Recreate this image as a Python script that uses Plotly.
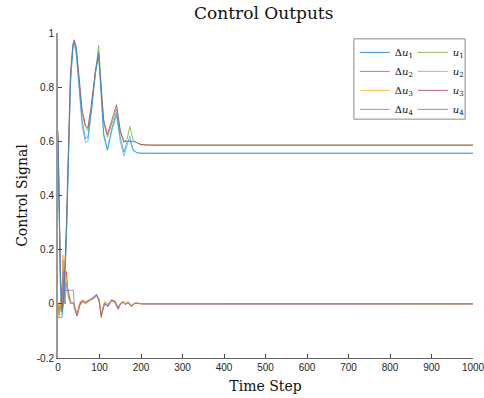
import plotly.graph_objects as go

# ---- data ----
t_u = [0, 3, 6, 10, 14, 20, 25, 30, 36, 39, 44, 50, 58, 66, 72, 80, 90, 98, 104, 110,
       119, 130, 141, 150, 159, 167, 173, 181, 190, 200, 220, 1000]
u1 = [0.62, 0.35, 0.08, -0.03, 0.02, 0.25, 0.55, 0.82, 0.95, 0.965, 0.93, 0.83, 0.70, 0.655, 0.64, 0.72,
      0.86, 0.955, 0.80, 0.67, 0.615, 0.665, 0.72, 0.635, 0.595, 0.61, 0.655, 0.605, 0.595, 0.588, 0.586, 0.586]
u2 = [0.60, 0.30, 0.05, -0.04, 0.01, 0.22, 0.52, 0.80, 0.95, 0.96, 0.92, 0.80, 0.66, 0.595, 0.60, 0.70,
      0.85, 0.915, 0.76, 0.62, 0.565, 0.64, 0.695, 0.60, 0.545, 0.585, 0.62, 0.565, 0.558, 0.556, 0.556, 0.556]
u3 = [0.638, 0.36, 0.10, -0.02, 0.03, 0.28, 0.58, 0.85, 0.96, 0.975, 0.95, 0.85, 0.72, 0.66, 0.65, 0.73,
      0.86, 0.92, 0.80, 0.68, 0.625, 0.68, 0.735, 0.64, 0.60, 0.60, 0.60, 0.60, 0.595, 0.588, 0.586, 0.586]
u4 = [0.61, 0.32, 0.06, -0.03, 0.02, 0.24, 0.54, 0.83, 0.955, 0.97, 0.94, 0.82, 0.68, 0.61, 0.615, 0.71,
      0.85, 0.93, 0.78, 0.63, 0.57, 0.65, 0.705, 0.615, 0.56, 0.60, 0.605, 0.57, 0.558, 0.556, 0.556, 0.556]

t_du = [0, 2, 6, 10, 12, 14, 17, 20, 25, 30, 37, 40, 46, 52, 58, 66, 75, 85, 93, 99, 104, 112,
        120, 129, 137, 145, 151, 157, 163, 169, 177, 184, 190, 198, 205, 1000]
du1 = [0.0, -0.04, -0.02, 0.03, 0.10, 0.05, 0.0, 0.08, 0.04, 0.01, 0.0, -0.01, -0.04, -0.005, 0.01, 0.005,
       0.015, 0.02, 0.03, 0.015, -0.04, 0.0, -0.01, 0.012, 0.008, -0.015, 0.0, 0.006, -0.002, 0.005, -0.008,
       0.002, 0.002, 0.001, 0.0, 0.0]
du2 = [0.0, -0.03, 0.01, 0.05, 0.16, 0.08, 0.02, 0.12, 0.03, 0.0, 0.005, -0.02, -0.045, 0.0, 0.012, 0.0,
       0.01, 0.025, 0.035, 0.01, -0.05, 0.005, -0.005, 0.015, 0.005, -0.02, 0.002, 0.008, 0.0, 0.006, -0.01,
       0.0, 0.003, 0.0, 0.0, 0.0]
du3 = [0.0, -0.05, -0.01, 0.04, 0.18, 0.06, 0.01, 0.10, 0.02, 0.005, 0.0, -0.015, -0.035, 0.005, 0.015, 0.01,
       0.012, 0.018, 0.028, 0.02, -0.035, 0.008, 0.0, 0.01, 0.012, -0.01, 0.004, 0.01, 0.002, 0.008, -0.005,
       0.004, 0.001, 0.001, 0.0, 0.0]
du4 = [-0.05, -0.05, -0.05, -0.05, 0.12, 0.05, 0.05, 0.05, 0.05, 0.05, 0.05, -0.01, -0.045, -0.01, 0.008, 0.004,
       0.012, 0.02, 0.035, 0.012, -0.045, 0.0, -0.008, 0.014, 0.01, -0.018, 0.0, 0.005, -0.003, 0.006, -0.009,
       0.001, 0.002, 0.0, 0.0, 0.0]

x_ticks = [0, 100, 200, 300, 400, 500, 600, 700, 800, 900, 1000]
y_ticks = [-0.2, 0, 0.2, 0.4, 0.6, 0.8, 1]
y_tick_labels = ["-0.2", "0", "0.2", "0.4", "0.6", "0.8", "1"]

du_names = ["Δ<i>u</i><sub>1</sub>", "Δ<i>u</i><sub>2</sub>", "Δ<i>u</i><sub>3</sub>", "Δ<i>u</i><sub>4</sub>"]
u_names = ["<i>u</i><sub>1</sub>", "<i>u</i><sub>2</sub>", "<i>u</i><sub>3</sub>", "<i>u</i><sub>4</sub>"]
du_colors = ["#0072BD", "#D95319", "#EDB120", "#A070B0"]
u_colors = ["#77AC30", "#4DBEEE", "#B04050", "#3A8FD0"]

fig = go.Figure()
for name, ys, c in zip(du_names, [du1, du2, du3, du4], du_colors):
    fig.add_trace(go.Scatter(x=t_du, y=ys, mode="lines", name=name,
                             line=dict(color=c, width=0.8), legend="legend"))
for name, ys, c in zip(u_names, [u1, u2, u3, u4], u_colors):
    fig.add_trace(go.Scatter(x=t_u, y=ys, mode="lines", name=name,
                             line=dict(color=c, width=0.8), legend="legend2"))

axis_font = dict(family="Liberation Sans, Arial, sans-serif", size=10, color="#262626")
serif = "DejaVu Serif, serif"

fig.update_layout(
    width=484, height=398,
    margin=dict(l=58, r=11, t=33, b=40, autoexpand=False),
    paper_bgcolor="white", plot_bgcolor="white",
    title=dict(text="Control Outputs", x=0.545, xanchor="center", y=0.966, yanchor="middle",
               font=dict(family=serif, size=17, color="#111")),
    xaxis=dict(range=[0, 1000], tickvals=x_ticks, ticks="inside", ticklen=4, tickcolor="#444",
               showline=True, linecolor="#666", linewidth=1, showgrid=False, zeroline=False,
               tickfont=axis_font, ticklabeloverflow="allow", automargin=False,
               title=dict(text="Time Step", font=dict(family=serif, size=14, color="#111"), standoff=9)),
    yaxis=dict(range=[-0.2, 1], tickvals=y_ticks, ticktext=y_tick_labels, ticks="inside", ticklen=4,
               tickcolor="#444", showline=True, linecolor="#999", linewidth=2, showgrid=False,
               zeroline=False, tickfont=axis_font, automargin=False,
               title=dict(text="Control Signal", font=dict(family=serif, size=14, color="#111"), standoff=6)),
    showlegend=True,
    legend=dict(x=0.715, y=0.985, xanchor="left", yanchor="top", bgcolor="rgba(0,0,0,0)",
                font=dict(family=serif, size=10, color="#111"), borderwidth=0,
                itemwidth=30),
    legend2=dict(x=0.855, y=0.985, xanchor="left", yanchor="top", bgcolor="rgba(0,0,0,0)",
                 font=dict(family=serif, size=10, color="#111"), borderwidth=0,
                 itemwidth=30),
    shapes=[dict(type="rect", xref="paper", yref="paper", x0=0.713, x1=0.981, y0=0.735, y1=0.982,
                 line=dict(color="#888", width=1), fillcolor="white", layer="below")],
)

fig.write_html("out.html")
